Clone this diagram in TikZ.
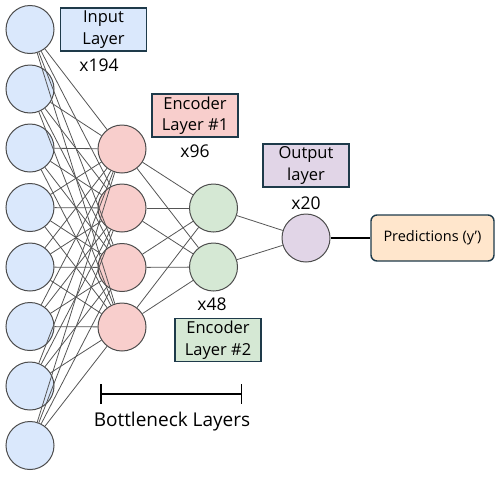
\documentclass[tikz,border=0pt]{standalone}
\usepackage{fontspec}
\setmainfont{Open Sans}
\usetikzlibrary{positioning,arrows.meta}

\definecolor{inblue}{HTML}{DAE8FC}
\definecolor{encred}{HTML}{F8CECC}
\definecolor{encgreen}{HTML}{D5E8D4}
\definecolor{outpurple}{HTML}{E1D5E7}
\definecolor{predpeach}{HTML}{FFE6CC}
\definecolor{ringgray}{HTML}{4D4D4D}
\definecolor{wiregray}{HTML}{555555}
\definecolor{tagedge}{HTML}{1E3A4A}

\begin{document}
\begin{tikzpicture}[x=1pt, y=-1pt,
  neuron/.style={circle, draw=ringgray, line width=1pt, minimum size=48pt, inner sep=0pt},
  tag/.style={draw=tagedge, line width=1.8pt, minimum width=86pt, minimum height=43pt, inner sep=0pt, align=center, font=\fontsize{16.5}{21.5}\selectfont},
  count/.style={anchor=base, font=\fontsize{17.5}{20}\selectfont},
  wire/.style={draw=wiregray, line width=0.8pt}]
  \useasboundingbox (0,0) rectangle (500,477);

  % layers
  \foreach \i/\y in {1/29.5, 2/89, 3/148, 4/207.5, 5/267, 6/326.5, 7/386, 8/445.5}
    \node[neuron, fill=inblue] (in\i) at (30,\y) {};
  \foreach \i/\y in {1/149, 2/208, 3/267.5, 4/327}
    \node[neuron, fill=encred] (ea\i) at (122,\y) {};
  \node[neuron, fill=encgreen] (eb1) at (213.5,208) {};
  \node[neuron, fill=encgreen] (eb2) at (213.5,267) {};
  \node[neuron, fill=outpurple] (out) at (306,238) {};
  \node[draw=tagedge, line width=1.4pt, fill=predpeach, rounded corners=6pt, minimum width=123pt, minimum height=46pt, font=\fontsize{14.5}{17}\selectfont] (pred) at (432.5,238) {Predictions (y')};

  % connections
  \foreach \i in {1,...,8}
    \foreach \j in {1,...,4}
      \draw[wire] (in\i) -- (ea\j);
  \foreach \j in {1,...,4}
    \foreach \k in {1,2}
      \draw[wire] (ea\j) -- (eb\k);
  \draw[wire] (eb1) -- (out);
  \draw[wire] (eb2) -- (out);
  \draw[line width=2.2pt] (out) -- (pred);

  % labels
  \node[tag, fill=inblue] (inlab) at (103.5,29.5) {Input\\Layer};
  \node[count] (incount) at (99,71) {x194};
  \node[tag, fill=encred] (ealab) at (195,115.5) {Encoder\\Layer \#1};
  \node[count] (eacount) at (195,157) {x96};
  \node[tag, fill=outpurple] (outlab) at (306,165.5) {Output\\layer};
  \node[count] (outcount) at (306,209) {x20};
  \node[count] (ebcount) at (212,310) {x48};
  \node[tag, fill=encgreen] (eblab) at (218,340) {Encoder\\Layer \#2};

  % bottleneck bracket
  \coordinate (bl) at (100,394);
  \coordinate (br) at (242,394);
  \draw[line width=1.5pt, {Bar[width=20pt]}-{Bar[width=20pt]}] (bl) -- (br);
  \node[anchor=base, font=\fontsize{19}{22}\selectfont] (bneck) at (172,426) {Bottleneck Layers};
\end{tikzpicture}
\end{document}
